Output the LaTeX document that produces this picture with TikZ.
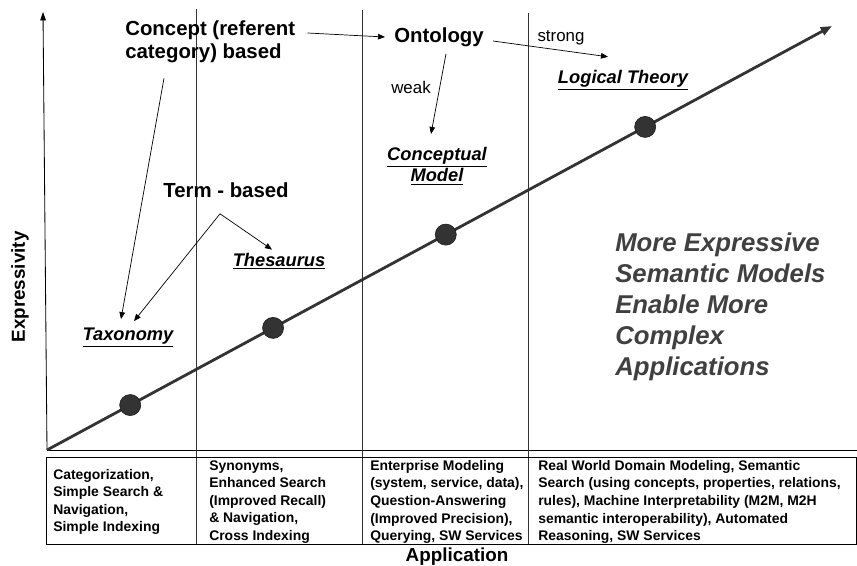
\documentclass[tikz,border=0pt]{standalone}
\usepackage{fontspec}
\setmainfont{Liberation Sans}
\usetikzlibrary{arrows.meta,calc}
\definecolor{darkline}{HTML}{333333}
\definecolor{slogangray}{HTML}{404040}
\begin{document}
\begin{tikzpicture}
  [x=0.025cm,y=-0.025cm,every node/.style={inner sep=0pt}]
  \tikzstyle{lbl} = [font=\fontsize{14.5}{16.3}\selectfont\bfseries, align=left]
  \tikzstyle{model} = [font=\fontsize{13}{13.5}\selectfont\bfseries\itshape, align=center]
  \tikzstyle{small} = [font=\fontsize{12}{13}\selectfont]
  \tikzstyle{axislbl} = [font=\fontsize{13.4}{14}\selectfont\bfseries]
  \tikzstyle{cell} = [font=\fontsize{9.9}{12.5}\selectfont\bfseries, align=left, anchor=west]
  \tikzstyle{slogan} = [font=\fontsize{18.3}{22}\selectfont\bfseries\itshape, text=slogangray, align=left, anchor=west]
  \tikzstyle{link} = [-{Triangle[length=5pt,width=4pt]}, black, line width=0.5pt]
  \tikzstyle{dot} = [circle, fill=darkline, draw=black!90, minimum size=15pt]
  \useasboundingbox (0,0) rectangle (857,566);

  % axes and columns
  \coordinate (origin) at (47,450);
  \coordinate (ytip) at (43,12);
  \coordinate (trendtip) at (832,26);
  \draw[-{Triangle[length=6pt,width=4pt]}, line width=0.6pt] (origin) -- (ytip);
  \draw[line width=0.7pt] (origin) -- (857,450);
  \foreach \x/\top in {196/9,362/10,528/13}
    \draw[darkline, line width=0.7pt] (\x,\top) -- (\x,544);
  \draw[line width=0.7pt] (46,457) rectangle (856,544);

  % trend with the four models
  \draw[darkline, line width=2pt, -{Triangle[length=8pt,width=6pt]}] (origin) -- (trendtip);
  \foreach \n/\p in {d1/0.106,d2/0.288,d3/0.508,d4/0.762}
    \node[dot] (\n) at ($(origin)!\p!(trendtip)$) {};

  % labels
  \node[lbl, anchor=west] (concept) at (125,42) {Concept (referent\\category) based};
  \node[lbl] (ontology) at (439,37) {Ontology};
  \node[lbl] (term) at (226,190) {Term - based};
  \node[small] (weak) at (411,87) {weak};
  \node[small] (strong) at (561,38) {strong};
  \node[model] (taxonomy) at (128,338) {\underline{Taxonomy}};
  \node[model] (thesaurus) at (279,261) {\underline{Thesaurus}};
  \node[model] (conceptual) at (437,166) {\underline{Conceptual}\\\underline{Model}};
  \node[model] (logical) at (623,80) {\underline{Logical Theory}};

  \draw[link] ($(concept.east)+(12,-9)$) -- ($(ontology.west)+(-9,0)$);
  \draw[link] ($(concept.south west)+(39,15)$) -- ($(taxonomy.north)+(-7,-9)$);
  \draw[link] ($(term.south)+(-6,16)$) -- ($(taxonomy.north)+(6,-7)$);
  \draw[link] ($(term.south)+(-6,16)$) -- ($(thesaurus.north)+(-7,-3)$);
  \draw[link] ($(ontology.south)+(7,7)$) -- ($(conceptual.north)+(-6,-13)$);
  \draw[link] ($(ontology.east)+(9,4)$) -- ($(logical.north)+(-15,-13)$);

  \node[slogan] (claim) at (615,307) {More Expressive\\Semantic Models\\Enable More\\Complex\\Applications};

  % applications table
  \node[cell] (app1) at (53,502) {Categorization,\\Simple Search \&\\Navigation,\\Simple Indexing};
  \node[cell] (app2) at (209,502) {Synonyms,\\Enhanced Search\\(Improved Recall)\\\& Navigation,\\Cross Indexing};
  \node[cell] (app3) at (370,502) {Enterprise Modeling\\(system, service, data),\\Question-Answering\\(Improved Precision),\\Querying, SW Services};
  \node[cell] (app4) at (538,502) {Real World Domain Modeling, Semantic\\Search (using concepts, properties, relations,\\rules), Machine Interpretability (M2M, M2H\\semantic interoperability), Automated\\Reasoning, SW Services};

  \node[axislbl, rotate=90] (ylabel) at (20,287) {Expressivity};
  \node[axislbl] (xlabel) at (457,557) {Application};
\end{tikzpicture}
\end{document}
